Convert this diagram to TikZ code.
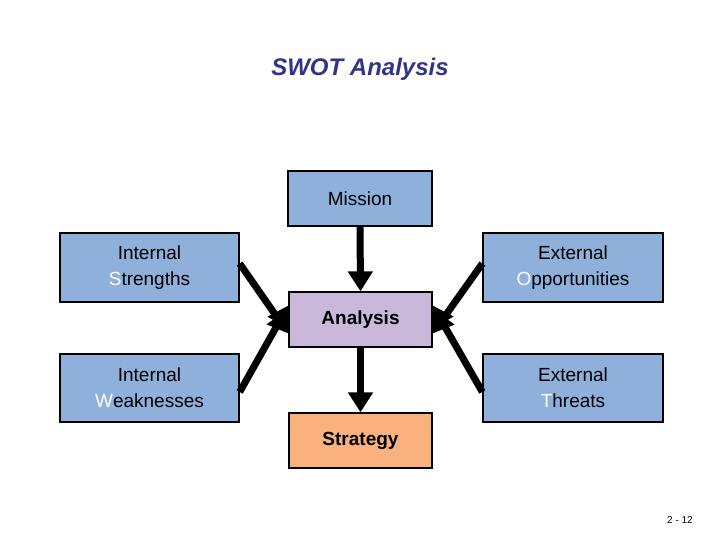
\documentclass[tikz,border=0pt]{standalone}
\usepackage{fontspec}
\setmainfont{Liberation Sans}
\usetikzlibrary{arrows.meta}
\definecolor{boxblue}{HTML}{8EB0DA}
\definecolor{boxlav}{HTML}{C9B8DA}
\definecolor{boxorg}{HTML}{F9B27E}
\definecolor{titlec}{HTML}{333388}
\begin{document}
\begin{tikzpicture}[x=1pt,y=-1pt,
  box/.style={draw=black,line width=1.3pt,minimum width=#1,inner sep=0pt,align=center,font=\fontsize{19}{26}\selectfont},
  bigarrow/.style={line width=7pt,-{Triangle[length=20pt,width=24pt]}},
  fl/.style={text=white}]
\useasboundingbox (0,0) rectangle (720,540);
\node[font=\fontsize{24}{28}\selectfont\bfseries\itshape,text=titlec] (title) at (360,69) {SWOT Analysis};
\node[box=144pt,fill=boxblue,minimum height=55pt] (mis) at (360,198.5) {Mission};
\node[box=179pt,fill=boxblue,minimum height=69pt] (str) at (149.5,267.5) {Internal\\{\color{white}S}trengths};
\node[box=180pt,fill=boxblue,minimum height=69pt] (opp) at (573,267.5) {External\\{\color{white}O}pportunities};
\node[box=143pt,fill=boxlav,minimum height=55pt,font=\fontsize{19}{26}\selectfont\bfseries] (ana) at (360.5,319.5) {Analysis};
\node[box=179pt,fill=boxblue,minimum height=68pt] (wea) at (149.5,388) {Internal\\{\color{white}W}eaknesses};
\node[box=180pt,fill=boxblue,minimum height=68pt] (thr) at (573,388) {External\\{\color{white}T}hreats};
\node[box=143pt,fill=boxorg,minimum height=55pt,font=\fontsize{19}{26}\selectfont\bfseries] (stg) at (360.5,440.5) {Strategy};
\node[font=\fontsize{10}{12}\selectfont] (pg) at (680,520) {2 - 12};
\draw[bigarrow] (mis.south) -- (ana.north);
\draw[bigarrow] (ana.south) -- (stg.north);
\draw[bigarrow] ([yshift=4pt]str.east) -- ([yshift=-14pt]ana.west);
\draw[bigarrow] ([yshift=4pt]opp.west) -- ([yshift=-14pt]ana.east);
\draw[bigarrow] ([yshift=-4pt]wea.east) -- ([yshift=14pt]ana.west);
\draw[bigarrow] ([yshift=-4pt]thr.west) -- ([yshift=14pt]ana.east);
\end{tikzpicture}
\end{document}
